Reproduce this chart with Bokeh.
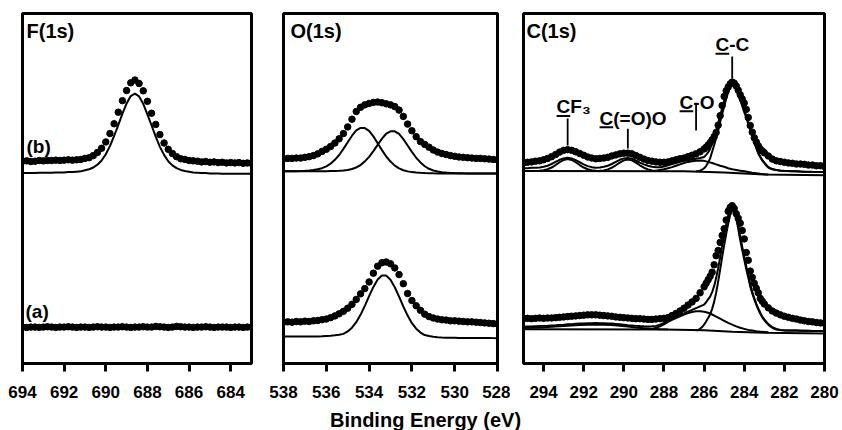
import numpy as np
from bokeh.plotting import figure
from bokeh.layouts import column, row
from bokeh.models import Range1d, FixedTicker, Label
from bokeh.embed import file_html
from bokeh.resources import INLINE

FONT = "Liberation Sans"

# ---------------- data ----------------
f_ticks = [694, 692, 690, 688, 686, 684]
o_ticks = [538, 536, 534, 532, 530, 528]
c_ticks = [294, 292, 290, 288, 286, 284, 282, 280]

# F(1s): binding energy grid 694.0 -> 683.0 eV
f_x = np.round(np.arange(694.0, 682.9, -0.2), 1)
f_b_dots = [57.8, 57.9, 57.7, 57.8, 58.0, 57.9, 58.0, 58.0, 58.1, 58.0, 58.1, 58.2, 58.1, 58.2,
            58.3, 58.6, 58.8, 59.4, 60.3, 61.5, 63.3, 65.7, 68.5, 71.8, 75.1, 78.0, 80.2,
            81.0,
            80.0, 77.9, 74.9, 71.5, 68.3, 65.4, 63.0, 61.2, 60.0, 59.1, 58.5, 58.3, 58.0, 57.9,
            57.8, 57.6, 57.7, 57.5, 57.6, 57.4, 57.5, 57.3, 57.4, 57.3, 57.4, 57.2, 57.3, 57.2]
f_b_fit = [54.4, 54.4, 54.4, 54.4, 54.5, 54.5, 54.5, 54.5, 54.6, 54.6, 54.6, 54.7, 54.7, 54.8,
           54.9, 55.2, 55.5, 56.0, 56.8, 58.0, 59.8, 62.1, 65.0, 68.1, 71.4, 74.3, 76.4,
           77.1,
           76.3, 74.2, 71.2, 68.0, 64.8, 61.9, 59.6, 57.8, 56.6, 55.8, 55.3, 55.0, 54.8, 54.6,
           54.5, 54.4, 54.4, 54.3, 54.3, 54.3, 54.2, 54.2, 54.2, 54.2, 54.2, 54.2, 54.2, 54.2]
f_a_dots = [10.4, 10.3, 10.4, 10.4, 10.3, 10.4, 10.5, 10.4, 10.3, 10.4, 10.4, 10.5, 10.4, 10.3,
            10.4, 10.4, 10.3, 10.4, 10.5, 10.4, 10.4, 10.3, 10.4, 10.4, 10.5, 10.4, 10.3, 10.4,
            10.4, 10.5, 10.4, 10.4, 10.6, 10.5, 10.4, 10.3, 10.4, 10.6, 10.5, 10.4, 10.4, 10.3,
            10.4, 10.4, 10.5, 10.4, 10.3, 10.4, 10.4, 10.4, 10.3, 10.4, 10.4, 10.3, 10.4, 10.4]

# O(1s): grid 538.0 -> 528.0 eV
o_x = np.round(np.arange(538.0, 527.9, -0.2), 1)
o_b_dots = [58.5, 58.6, 58.6, 58.7, 58.7, 58.9, 59.1, 59.4, 59.9, 60.6, 61.2, 62.0, 63.0, 64.2,
            65.7, 67.6, 69.8, 72.0, 73.2, 73.9, 74.3, 74.6, 74.7, 74.5, 74.2, 73.9, 73.4, 72.4,
            70.6, 68.4, 66.5, 64.8, 63.4, 62.6, 61.8, 61.0, 60.4, 60.0, 59.7, 59.4, 59.2, 59.0,
            58.9, 58.8, 58.7, 58.6, 58.6, 58.5, 58.4, 58.3, 58.2]
o_b_comp1 = [54.9, 54.9, 54.9, 54.96, 55.0, 55.07, 55.16, 55.28, 55.48, 55.80, 56.31, 57.08,
             58.20, 59.58, 61.33, 63.21, 65.09, 66.58, 67.31, 67.27, 66.46, 64.89, 62.93, 60.97,
             59.14, 57.70, 56.53, 55.74, 55.22, 54.89, 54.68, 54.56, 54.47, 54.40, 54.36, 54.33,
             54.31, 54.3, 54.3, 54.3, 54.3, 54.3, 54.3, 54.3, 54.3, 54.3, 54.3, 54.3, 54.3, 54.3,
             54.3]
o_b_comp2 = [54.9, 54.9, 54.9, 54.9, 54.9, 54.9, 54.9, 54.9, 54.9, 54.9, 54.96, 55.0, 55.03,
             55.08, 55.16, 55.30, 55.57, 56.01, 56.70, 57.75, 59.04, 60.69, 62.47, 64.24, 65.65,
             66.35, 66.33, 65.58, 64.12, 62.30, 60.47, 58.78, 57.45, 56.36, 55.63, 55.15, 54.84,
             54.66, 54.54, 54.46, 54.40, 54.36, 54.33, 54.31, 54.3, 54.3, 54.3, 54.3, 54.3, 54.3,
             54.3]
o_a_dots = [11.8, 11.9, 11.8, 12.0, 11.9, 12.1, 12.0, 12.2, 12.3, 12.5, 12.7, 13.1, 13.6, 14.2,
            14.9, 15.8, 16.9, 18.3, 19.9, 21.4, 23.3, 25.8, 27.8, 28.8, 29.0, 28.5, 27.3, 25.4,
            22.8, 20.0, 18.0, 16.5, 15.2, 14.1, 13.4, 13.0, 12.7, 12.5, 12.4, 12.2, 12.2, 12.1,
            12.0, 11.9, 11.9, 11.8, 11.7, 11.6, 11.5, 11.4, 11.3]
o_a_fit = [7.7, 7.7, 7.7, 7.7, 7.7, 7.7, 7.7, 7.7, 7.72, 7.78, 7.85, 7.92, 8.04, 8.2, 8.46, 9.15,
           10.23, 11.79, 13.91, 16.47, 19.24, 21.89, 23.99, 25.13, 25.11, 23.93, 21.79, 19.10,
           16.29, 13.69, 11.53, 9.94, 8.83, 8.12, 7.84, 7.66, 7.53, 7.44, 7.39, 7.35, 7.33, 7.3,
           7.3, 7.3, 7.3, 7.3, 7.3, 7.3, 7.28, 7.25, 7.2]

# C(1s): measured points (finer step across the main peak)
c_x = np.round(np.concatenate([np.arange(295.0, 286.1, -0.2),
                               np.arange(286.0, 282.95, -0.1),
                               np.arange(282.8, 279.95, -0.2)]), 1)
c_b_dots = [57.3, 57.5, 57.6, 57.8, 57.9, 58.2, 58.6, 59.1, 59.7, 60.4, 60.9, 61.1, 60.9, 60.5,
            60.0, 59.5, 59.0, 58.7, 58.5, 58.6, 58.7, 58.9, 59.3, 59.6, 59.9, 60.1, 60.1, 59.9,
            59.4, 58.9, 58.4, 58.0, 57.8, 57.6, 57.5, 57.5, 57.6, 57.9, 58.2, 58.5, 58.7, 59.1,
            59.5, 59.9, 60.5,
            61.3, 61.8, 62.4, 63.1, 63.9, 64.8, 66.0, 68.1, 70.8, 73.7, 76.3, 77.9, 79.0, 79.9,
            80.4, 80.1, 79.3, 78.1, 76.8, 75.6, 74.4, 72.6, 70.3, 68.0, 66.1, 64.5, 63.3, 62.2,
            61.3, 60.7, 60.2,
            59.3, 58.4, 57.9, 57.7, 57.5, 57.3, 57.2, 57.0, 57.0, 56.9, 56.7, 56.7, 56.5, 56.5,
            56.3]
c_b_env = [55.8, 55.8, 55.9, 55.9, 56.0, 56.2, 56.5, 57.0, 57.6, 58.2, 58.6, 58.8, 58.6, 58.1,
           57.5, 56.9, 56.4, 56.1, 55.9, 56.0, 56.2, 56.5, 57.0, 57.6, 58.2, 58.6, 58.7, 58.5,
           58.0, 57.4, 56.9, 56.5, 56.2, 56.1, 56.1, 56.3, 56.6, 57.0, 57.3, 57.6, 57.9, 58.1,
           58.3, 58.5, 58.7,
           59.0, 59.6, 60.3, 61.3, 63.1, 64.8, 66.6, 68.6, 70.9, 72.9, 75.1, 77.0, 78.8, 79.9,
           80.4, 80.0, 79.0, 77.6, 76.1, 74.3, 72.4, 70.8, 69.0, 67.2, 65.3, 63.6, 61.8, 60.2,
           59.1, 58.1, 57.4,
           56.1, 55.55, 55.3, 55.15, 55.05, 55.0, 54.95, 54.9, 54.85, 54.82, 54.8, 54.77, 54.75,
           54.72, 54.7]
c_a_dots = [12.8, 12.9, 12.8, 12.9, 13.0, 12.9, 13.0, 13.0, 13.1, 13.2, 13.3, 13.4, 13.5, 13.6,
            13.7, 13.8, 13.9, 13.9, 13.9, 13.8, 13.7, 13.6, 13.5, 13.3, 13.2, 13.1, 13.0, 12.9,
            12.8, 12.8, 12.7, 12.6, 12.6, 12.7, 12.8, 12.9, 13.1, 13.7, 14.3, 15.0, 15.8, 16.7,
            17.6, 18.6, 20.2,
            21.9, 22.9, 23.9, 24.9, 26.1, 28.2, 30.8, 32.3, 34.6, 36.6, 38.5, 41.0, 43.5, 44.6,
            45.1, 44.3, 42.8, 41.5, 40.1, 38.0, 35.6, 31.7, 29.5, 26.4, 24.6, 22.9, 21.5, 20.2,
            18.6, 17.8, 17.0,
            15.9, 15.0, 14.4, 13.9, 13.5, 13.2, 12.9, 12.7, 12.4, 12.2, 12.0, 11.9, 11.7, 11.6,
            11.5]
c_a_env = [10.55, 10.58, 10.6, 10.65, 10.7, 10.75, 10.8, 10.88, 10.95, 11.03, 11.1, 11.18, 11.25,
           11.33, 11.4, 11.45, 11.5, 11.53, 11.55, 11.53, 11.5, 11.45, 11.4, 11.3, 11.2, 11.08,
           10.95, 10.85, 10.75, 10.68, 10.62, 10.6, 10.62, 10.75, 11.1, 11.6, 12.2, 12.8, 13.35,
           13.85, 14.3, 14.8, 15.3, 15.8, 16.3,
           16.8, 17.5, 18.3, 19.1, 20.4, 22.1, 24.4, 27.2, 30.3, 33.7, 36.8, 39.7, 42.3, 44.3,
           45.0, 44.7, 43.0, 39.9, 36.5, 33.4, 30.6, 27.8, 25.2, 22.6, 20.5, 18.7, 17.1, 15.7,
           14.5, 13.4, 12.6,
           11.25, 10.4, 9.85, 9.6, 9.5, 9.45, 9.42, 9.4, 9.38, 9.36, 9.34, 9.32, 9.3, 9.28, 9.26]

# C(1s) fitted components
cc_x = np.round(np.concatenate([np.arange(286.4, 282.35, -0.1),
                                [282.2, 282.0, 281.5, 281.0, 280.5, 280.0]]), 1)
c_b_cc = [54.9, 54.95, 55.1, 55.4, 55.8, 56.4, 57.4, 58.6, 60.5, 62.4, 64.4, 66.6, 69.0, 71.2,
          73.5, 75.6, 77.5, 79.0, 79.7, 79.4, 78.3, 76.8, 75.4, 73.6, 71.8, 70.3, 68.5, 66.8,
          65.0, 63.3, 61.6, 60.0, 59.0, 58.0, 57.3, 56.5, 56.0, 55.7, 55.5, 55.35, 55.25,
          55.1, 55.0, 54.9, 54.8, 54.75, 54.7]
c_a_cc = [9.5, 9.6, 9.9, 10.4, 11.1, 12.0, 13.0, 14.0, 15.6, 17.6, 20.2, 23.4, 26.8, 30.4, 33.8,
          37.0, 39.9, 42.4, 43.7, 43.4, 41.5, 38.5, 35.3, 32.4, 29.7, 27.0, 24.6, 22.0, 20.0,
          18.3, 16.8, 15.4, 14.2, 13.2, 12.4, 11.7, 11.1, 10.6, 10.2, 9.9, 9.7,
          9.55, 9.45, 9.4, 9.35, 9.3, 9.25]
co_x = np.round(np.arange(288.6, 282.7, -0.2), 1)
c_b_co = [55.0, 55.1, 55.3, 55.5, 55.8, 56.1, 56.5, 56.9, 57.3, 57.6, 57.8, 57.95, 58.0, 57.9,
          57.6, 57.3, 56.9, 56.5, 56.2, 55.8, 55.5, 55.3, 55.1, 54.9, 54.7, 54.5, 54.35, 54.2,
          54.1, 54.0]
c_a_co = [9.9, 10.2, 10.6, 11.2, 11.9, 12.5, 13.0, 13.5, 14.0, 14.4, 14.7, 14.9, 14.9, 14.8,
          14.5, 14.0, 13.4, 12.8, 12.2, 11.6, 11.1, 10.6, 10.2, 9.9, 9.6, 9.4, 9.2, 9.1, 9.0, 8.9]
cf3_x = np.round(np.arange(294.4, 291.1, -0.2), 1)
c_b_cf3 = [55.0, 55.08, 55.21, 55.5, 55.99, 56.7, 57.5, 58.15, 58.4, 58.15, 57.5, 56.7, 55.99,
           55.5, 55.21, 55.08, 55.0]
coo_x = np.round(np.arange(291.4, 288.1, -0.2), 1)
c_b_coo = [54.98, 55.06, 55.18, 55.46, 55.94, 56.63, 57.41, 58.04, 58.28, 58.04, 57.41, 56.63,
           55.94, 55.46, 55.18, 55.06, 54.98]
broad_x = np.round(np.arange(295.0, 287.7, -0.4), 1)
c_a_broad = [10.15, 10.2, 10.3, 10.4, 10.55, 10.7, 10.85, 11.0, 11.1, 11.15, 11.1, 11.0, 10.8,
             10.55, 10.3, 10.1, 9.9, 9.8, 9.75]
c_b_base_x = [295.0, 287.0, 285.0, 283.0, 280.0]
c_b_base = [55.0, 54.9, 54.6, 54.0, 53.8]
c_a_base_x = [295.0, 288.0, 286.0, 284.6, 283.0, 280.0]
c_a_base = [9.8, 9.7, 9.5, 9.1, 8.8, 8.6]

# peak assignments (label, peak position eV)
c_peak_names = ["CF\u2083", "C(=O)O", "C-O", "C-C"]
c_peak_pos = [292.8, 289.8, 286.4, 284.6]

for xs, ys in [(f_x, f_b_dots), (f_x, f_b_fit), (f_x, f_a_dots), (o_x, o_b_dots),
               (o_x, o_b_comp1), (o_x, o_b_comp2), (o_x, o_a_dots), (o_x, o_a_fit),
               (c_x, c_b_dots), (c_x, c_b_env), (c_x, c_a_dots), (c_x, c_a_env),
               (cc_x, c_b_cc), (cc_x, c_a_cc), (co_x, c_b_co), (co_x, c_a_co),
               (cf3_x, c_b_cf3), (coo_x, c_b_coo), (broad_x, c_a_broad)]:
    assert len(xs) == len(ys), (len(xs), len(ys))

# ---------------- styling helpers ----------------
DOT = 6.5
LW = 2


def make_panel(x0, x1, ticks, left, frame_w, right):
    p = figure(title=None, frame_width=frame_w, frame_height=350,
               x_range=Range1d(x0, x1), y_range=Range1d(0, 100),
               y_axis_type=None, toolbar_location=None, output_backend="svg",
               min_border_left=left, min_border_right=right,
               min_border_top=13, min_border_bottom=40)
    p.background_fill_color = "white"
    p.border_fill_color = "white"
    p.outline_line_color = "black"
    p.outline_line_width = 3
    p.grid.visible = False
    ax = p.xaxis[0]
    ax.ticker = FixedTicker(ticks=ticks, minor_ticks=[])
    ax.axis_line_width = 3
    ax.axis_line_color = "black"
    ax.major_tick_in = 0
    ax.major_tick_out = 8
    ax.major_tick_line_width = 3
    ax.minor_tick_line_color = None
    ax.major_label_standoff = 14
    ax.major_label_text_font = FONT
    ax.major_label_text_font_style = "bold"
    ax.major_label_text_font_size = "17px"
    ax.major_label_text_color = "black"
    return p


def dots(p, x, y):
    p.scatter(x, y, size=DOT, color="black")


def curve(p, x, y):
    p.line(x, y, line_width=LW, color="black")


def tag(p, text, x, y, size="20px"):
    # x, y: screen offsets from the frame's bottom-left corner to the text's left-middle
    p.add_layout(Label(x=x, y=y, x_units="screen", y_units="screen", text=text,
                       text_font=FONT, text_font_style="bold", text_font_size=size,
                       text_color="black", text_align="left", text_baseline="middle"))


# ---------------- F(1s) ----------------
pf = make_panel(694, 683, f_ticks, 22, 229, 16)
curve(pf, f_x, f_b_fit)
dots(pf, f_x, f_b_dots)
dots(pf, f_x, f_a_dots)
tag(pf, "F(1s)", 4, 333)
tag(pf, "(b)", 4, 217, "19px")
tag(pf, "(a)", 3, 52, "19px")

# ---------------- O(1s) ----------------
po = make_panel(538, 528, o_ticks, 16, 214, 13)
curve(po, o_x, o_b_comp1)
curve(po, o_x, o_b_comp2)
dots(po, o_x, o_b_dots)
curve(po, o_x, o_a_fit)
dots(po, o_x, o_a_dots)
tag(po, "O(1s)", 7, 333)

# ---------------- C(1s) ----------------
pc = make_panel(295, 280, c_ticks, 13, 301, 18)
curve(pc, c_b_base_x, c_b_base)
curve(pc, cf3_x, c_b_cf3)
curve(pc, coo_x, c_b_coo)
curve(pc, co_x, c_b_co)
curve(pc, cc_x, c_b_cc)
curve(pc, c_x, c_b_env)
dots(pc, c_x, c_b_dots)
curve(pc, c_a_base_x, c_a_base)
curve(pc, broad_x, c_a_broad)
curve(pc, co_x, c_a_co)
curve(pc, cc_x, c_a_cc)
curve(pc, c_x, c_a_env)
dots(pc, c_x, c_a_dots)
tag(pc, "C(1s)", 3, 333)

# peak labels: text anchor (left x, middle y) and leader line span (y0, y1), in data units
lab_xy = [(293.35, 73.3), (291.21, 70.1), (287.22, 74.7), (285.43, 91.1)]
lead_y = [(62.3, 70.0), (61.4, 67.1), (66.6, 74.4), (81.4, 87.7)]
C_W = 0.68      # width of the underlined "C" in eV at this scale
UL = 2.6        # underline offset below the text middle
for name, pos, (tx, ty), (ly0, ly1) in zip(c_peak_names, c_peak_pos, lab_xy, lead_y):
    pc.add_layout(Label(x=tx, y=ty, text=name, text_font=FONT, text_font_style="bold",
                        text_font_size="19px", text_color="black", text_align="left",
                        text_baseline="middle"))
    pc.segment(x0=[pos], y0=[ly0], x1=[pos], y1=[ly1], line_width=1.8, color="black")
    pc.segment(x0=[tx], y0=[ty - UL], x1=[tx - C_W], y1=[ty - UL], line_width=2, color="black")

# ---------------- shared axis title ----------------
pt = figure(title=None, width=842, height=27, x_range=Range1d(0, 842), y_range=Range1d(0, 27),
            x_axis_type=None, y_axis_type=None, toolbar_location=None, output_backend="svg",
            min_border=0, min_border_left=0, min_border_right=0, min_border_top=0,
            min_border_bottom=0)
pt.outline_line_color = None
pt.background_fill_color = "white"
pt.border_fill_color = "white"
pt.grid.visible = False
pt.add_layout(Label(x=425, y=10.5, text="Binding Energy (eV)", text_font=FONT,
                    text_font_style="bold", text_font_size="20px", text_color="black",
                    text_align="center", text_baseline="middle"))

layout = column(row(pf, po, pc), pt)
open("out.html", "w").write(file_html(layout, INLINE))
